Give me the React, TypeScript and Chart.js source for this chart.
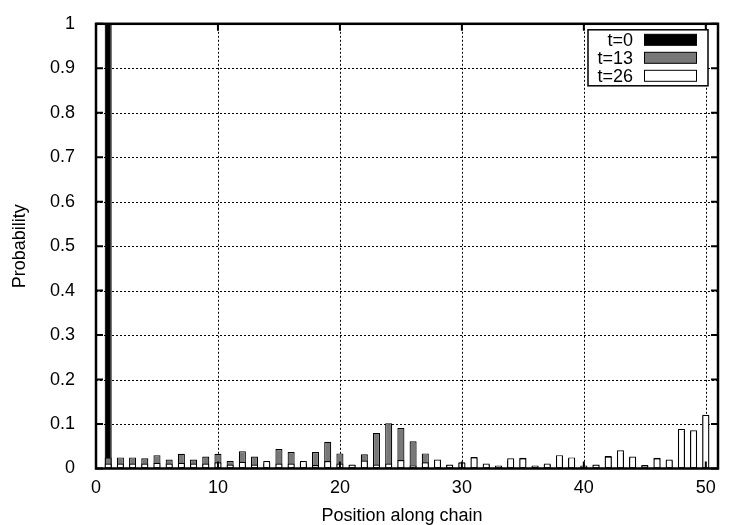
import { useEffect, useRef } from "react"
import { Chart, registerables } from "chart.js"

Chart.register(...registerables)

// position along the chain (site index)
const positions = [
  1, 2, 3, 4, 5, 6, 7, 8, 9, 10,
  11, 12, 13, 14, 15, 16, 17, 18, 19, 20,
  21, 22, 23, 24, 25, 26, 27, 28, 29, 30,
  31, 32, 33, 34, 35, 36, 37, 38, 39, 40,
  41, 42, 43, 44, 45, 46, 47, 48, 49, 50,
]

// probability at t=0
const probT0 = [
  1, 0, 0, 0, 0, 0, 0, 0, 0, 0,
  0, 0, 0, 0, 0, 0, 0, 0, 0, 0,
  0, 0, 0, 0, 0, 0, 0, 0, 0, 0,
  0, 0, 0, 0, 0, 0, 0, 0, 0, 0,
  0, 0, 0, 0, 0, 0, 0, 0, 0, 0,
]

// probability at t=13
const probT13 = [
  0.025, 0.025, 0.025, 0.023, 0.030, 0.020, 0.033, 0.020, 0.027, 0.033,
  0.017, 0.039, 0.027, 0.012, 0.044, 0.037, 0.012, 0.037, 0.060, 0.034,
  0.008, 0.032, 0.080, 0.102, 0.091, 0.061, 0.034, 0.015, 0.008, 0.013,
  0.026, 0.008, 0.005, 0.018, 0.024, 0.005, 0.008, 0.025, 0.022, 0.005,
  0.008, 0.028, 0.035, 0.024, 0.008, 0.024, 0.018, 0.085, 0.082, 0.120,
]

// probability at t=26
const probT26 = [
  0.011, 0.011, 0.011, 0.011, 0.013, 0.011, 0.013, 0.011, 0.011, 0.014,
  0.009, 0.015, 0.009, 0.017, 0.011, 0.011, 0.017, 0.008, 0.017, 0.011,
  0.009, 0.018, 0.009, 0.011, 0.019, 0.007, 0.014, 0.020, 0.009, 0.014,
  0.025, 0.011, 0.007, 0.023, 0.023, 0.007, 0.011, 0.030, 0.025, 0.007,
  0.009, 0.027, 0.041, 0.027, 0.007, 0.023, 0.020, 0.089, 0.086, 0.121,
]

const seriesLabels = ["t=0", "t=13", "t=26"]
const seriesColors = ["#000000", "#787878", "#ffffff"]

const xTicks = [0, 10, 20, 30, 40, 50]
const yTicks = [0, 0.1, 0.2, 0.3, 0.4, 0.5, 0.6, 0.7, 0.8, 0.9, 1]

const FONT = "'Liberation Sans', Arial, sans-serif"
const FONT_SIZE = 18

// gnuplot風の枠・グリッド・凡例
const gnuplotFrame = {
  id: "gnuplotFrame",
  beforeDatasetsDraw(chart: Chart) {
    const { ctx, chartArea } = chart
    const xs = chart.scales.x
    const ys = chart.scales.y
    ctx.save()
    ctx.strokeStyle = "#000"
    ctx.lineWidth = 1
    ctx.setLineDash([2, 2])
    xTicks.forEach(v => {
      if (v <= 0) return
      const px = Math.round(xs.getPixelForValue(v)) + 0.5
      ctx.beginPath()
      ctx.moveTo(px, chartArea.top)
      ctx.lineTo(px, chartArea.bottom)
      ctx.stroke()
    })
    yTicks.forEach(v => {
      if (v <= 0 || v >= 1) return
      const py = Math.round(ys.getPixelForValue(v)) + 0.5
      ctx.beginPath()
      ctx.moveTo(chartArea.left, py)
      ctx.lineTo(chartArea.right, py)
      ctx.stroke()
    })
    ctx.restore()
  },
  afterDatasetsDraw(chart: Chart) {
    const { ctx, chartArea } = chart
    const xs = chart.scales.x
    const ys = chart.scales.y
    const { left, right, top, bottom } = chartArea
    ctx.save()
    ctx.setLineDash([])
    ctx.strokeStyle = "#000"

    // 内向きの目盛り
    ctx.lineWidth = 2
    const tick = 7
    yTicks.forEach(v => {
      const py = ys.getPixelForValue(v)
      ctx.beginPath()
      ctx.moveTo(left, py)
      ctx.lineTo(left + tick, py)
      ctx.moveTo(right, py)
      ctx.lineTo(right - tick, py)
      ctx.stroke()
    })
    xTicks.forEach(v => {
      const px = xs.getPixelForValue(v)
      ctx.beginPath()
      ctx.moveTo(px, bottom)
      ctx.lineTo(px, bottom - tick)
      ctx.moveTo(px, top)
      ctx.lineTo(px, top + tick)
      ctx.stroke()
    })

    // 枠
    ctx.lineWidth = 2.5
    ctx.strokeRect(left, top, right - left, bottom - top)

    // 凡例
    const boxRight = right - 10
    const boxLeft = boxRight - 120
    const boxTop = top + 6
    const rowH = 18
    const boxH = rowH * seriesLabels.length + 2
    ctx.fillStyle = "#fff"
    ctx.fillRect(boxLeft, boxTop, boxRight - boxLeft, boxH)
    ctx.lineWidth = 1.5
    ctx.strokeRect(boxLeft, boxTop, boxRight - boxLeft, boxH)
    ctx.font = `${FONT_SIZE}px ${FONT}`
    ctx.textAlign = "right"
    ctx.textBaseline = "middle"
    seriesLabels.forEach((label, i) => {
      const cy = boxTop + 10 + i * rowH
      ctx.fillStyle = "#000"
      ctx.fillText(label, boxLeft + 45, cy + 1)
      ctx.fillStyle = seriesColors[i]
      ctx.fillRect(boxLeft + 56, cy - 5.5, 53, 11)
      ctx.lineWidth = 1
      ctx.strokeRect(boxLeft + 56.5, cy - 5.5, 52, 11)
    })

    // 軸タイトル
    ctx.fillStyle = "#000"
    ctx.textAlign = "center"
    ctx.textBaseline = "middle"
    ctx.font = `${FONT_SIZE}px ${FONT}`
    ctx.fillText("Position along chain", 402, 516)
    ctx.translate(20, (top + bottom) / 2)
    ctx.rotate(-Math.PI / 2)
    ctx.fillText("Probability", 0, 0)
    ctx.restore()
  },
}

export default function App() {
  const canvasRef = useRef<HTMLCanvasElement>(null)
  const chartRef = useRef<Chart | null>(null)

  useEffect(() => {
    if (!canvasRef.current) return
    if (chartRef.current) chartRef.current.destroy()
    const ctx = canvasRef.current.getContext("2d")
    if (!ctx) return

    const series = [probT0, probT13, probT26]

    chartRef.current = new Chart(ctx, {
      type: "bar",
      data: {
        datasets: series.map((values, i) => ({
          label: seriesLabels[i],
          data: positions.map((x, j) => ({ x, y: values[j] })),
          backgroundColor: seriesColors[i],
          borderColor: "#000",
          borderWidth: 1.2,
          borderSkipped: false,
          grouped: false,
          order: series.length - i,
          barPercentage: 0.58,
          categoryPercentage: 1,
        })),
      },
      options: {
        animation: false,
        responsive: true,
        maintainAspectRatio: false,
        layout: { padding: { top: 22, right: 32, left: 0, bottom: 0 } },
        plugins: {
          legend: { display: false },
          tooltip: { enabled: false },
        },
        scales: {
          x: {
            type: "linear",
            min: 0,
            max: 51,
            offset: false,
            grid: { display: false, offset: false },
            border: { display: false },
            ticks: {
              autoSkip: false,
              maxRotation: 0,
              padding: 1,
              color: "#000",
              font: { family: FONT, size: FONT_SIZE },
            },
            afterBuildTicks: (scale: any) => {
              scale.ticks = xTicks.map(value => ({ value }))
            },
            afterFit: (scale: any) => {
              scale.height = 56.5
            },
          },
          y: {
            min: 0,
            max: 1,
            grid: { display: false },
            border: { display: false },
            ticks: {
              padding: 13,
              color: "#000",
              font: { family: FONT, size: FONT_SIZE },
              callback: (v: any) => `${Math.round(Number(v) * 10) / 10}`,
            },
            afterBuildTicks: (scale: any) => {
              scale.ticks = yTicks.map(value => ({ value }))
            },
            afterFit: (scale: any) => {
              scale.width = 96
            },
          },
        },
      },
      plugins: [gnuplotFrame],
    })

    return () => {
      if (chartRef.current) {
        chartRef.current.destroy()
        chartRef.current = null
      }
    }
  }, [])

  return (
    <div style={{ position: "absolute", left: 0, top: 0, width: 750, height: 525, background: "#fff" }}>
      <canvas ref={canvasRef} />
    </div>
  )
}
